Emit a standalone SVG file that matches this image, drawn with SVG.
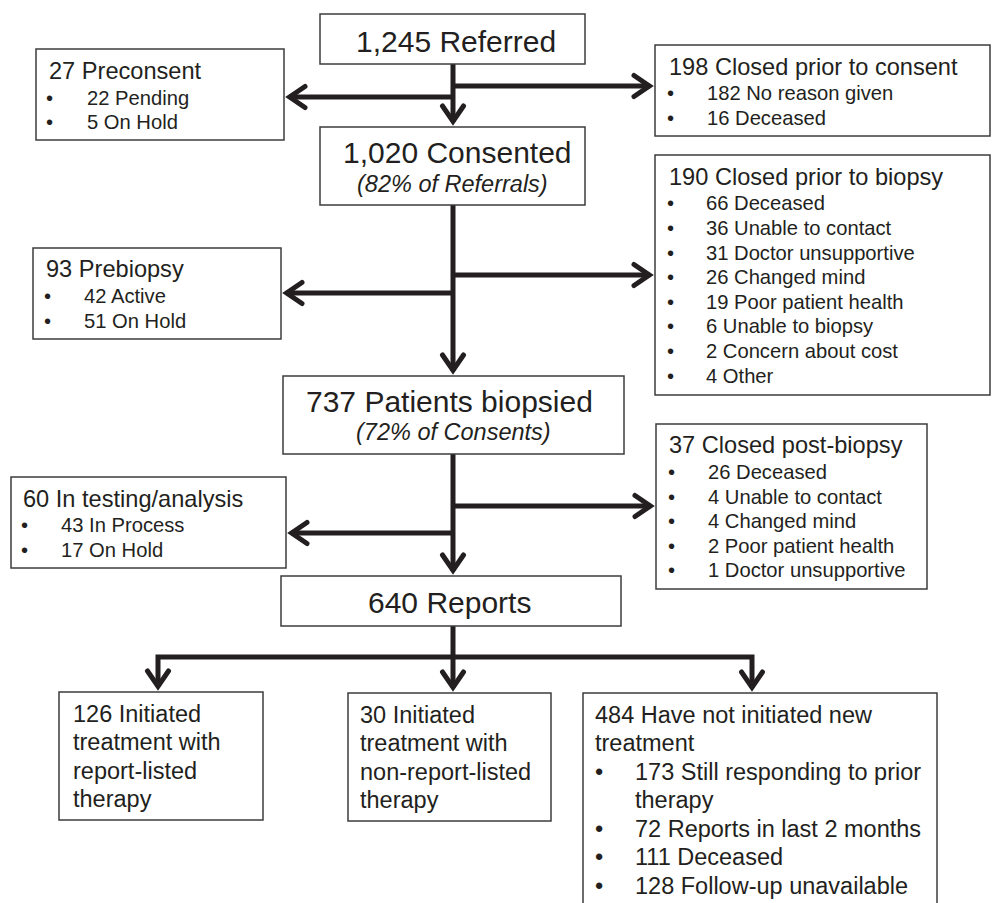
<svg xmlns="http://www.w3.org/2000/svg" width="992" height="903" viewBox="0 0 992 903">
<style>
text{font-family:"Liberation Sans",Arial,sans-serif;fill:#231f20}
.box{fill:#fff;stroke:#3c3c3c;stroke-width:1.5}
.big{font-size:30px}
.sub{font-size:23.5px;font-style:italic}
.hd{font-size:23.6px}
.it{font-size:20.2px}
.bt{font-size:23.5px}
.ln{fill:none;stroke:#231f20;stroke-width:5;stroke-linejoin:miter}
</style>
<defs>
<marker id="ah" markerUnits="userSpaceOnUse" viewBox="-30 -15 40 30" markerWidth="40" markerHeight="30" refX="0" refY="0" orient="auto-start-reverse" overflow="visible">
<path d="M-16,-10.5 L-0.6,0 L-16,10.5" fill="none" stroke="#231f20" stroke-width="5" stroke-linecap="round" stroke-linejoin="miter"/>
</marker>
</defs>
<rect width="992" height="903" fill="#fff"/>
<g id="connectors">
<line class="ln" x1="453" y1="64" x2="453" y2="122" marker-end="url(#ah)"/>
<line class="ln" x1="453" y1="86" x2="650" y2="86" marker-end="url(#ah)"/>
<line class="ln" x1="453" y1="97" x2="289" y2="97" marker-end="url(#ah)"/>
<line class="ln" x1="453" y1="205" x2="453" y2="371" marker-end="url(#ah)"/>
<line class="ln" x1="453" y1="275" x2="650" y2="275" marker-end="url(#ah)"/>
<line class="ln" x1="453" y1="293" x2="286" y2="293" marker-end="url(#ah)"/>
<line class="ln" x1="453" y1="454" x2="453" y2="571" marker-end="url(#ah)"/>
<line class="ln" x1="453" y1="506" x2="651" y2="506" marker-end="url(#ah)"/>
<line class="ln" x1="453" y1="533" x2="291" y2="533" marker-end="url(#ah)"/>
<line class="ln" x1="453" y1="626" x2="453" y2="688" marker-end="url(#ah)"/>
<path class="ln" d="M158,687 V657 H752 V688" marker-start="url(#ah)" marker-end="url(#ah)"/>
</g>
<g id="referred">
<rect class="box" x="320" y="14" width="265" height="50"/>
<text class="big" x="356" y="52">1,245 Referred</text>
</g>
<g id="preconsent">
<rect class="box" x="36" y="49" width="248" height="91"/>
<text class="hd" x="49" y="79">27 Preconsent</text>
<text class="it" x="46" y="105">•</text><text class="it" x="87" y="105">22 Pending</text>
<text class="it" x="46" y="129">•</text><text class="it" x="87" y="129">5 On Hold</text>
</g>
<g id="closed-consent">
<rect class="box" x="655" y="45" width="335" height="91"/>
<text class="hd" x="669" y="75">198 Closed prior to consent</text>
<text class="it" x="667" y="100">•</text><text class="it" x="707" y="100">182 No reason given</text>
<text class="it" x="667" y="125">•</text><text class="it" x="707" y="125">16 Deceased</text>
</g>
<g id="consented">
<rect class="box" x="320" y="127" width="265" height="78"/>
<text class="big" x="343" y="163">1,020 Consented</text>
<text class="sub" x="357" y="192">(82% of Referrals)</text>
</g>
<g id="closed-biopsy">
<rect class="box" x="655" y="155" width="335" height="240"/>
<text class="hd" x="669" y="185">190 Closed prior to biopsy</text>
<text class="it" x="667" y="210">•</text><text class="it" x="706" y="210">66 Deceased</text>
<text class="it" x="667" y="235">•</text><text class="it" x="706" y="235">36 Unable to contact</text>
<text class="it" x="667" y="260">•</text><text class="it" x="706" y="260">31 Doctor unsupportive</text>
<text class="it" x="667" y="284">•</text><text class="it" x="706" y="284">26 Changed mind</text>
<text class="it" x="667" y="309">•</text><text class="it" x="706" y="309">19 Poor patient health</text>
<text class="it" x="667" y="333">•</text><text class="it" x="706" y="333">6 Unable to biopsy</text>
<text class="it" x="667" y="358">•</text><text class="it" x="706" y="358">2 Concern about cost</text>
<text class="it" x="667" y="383">•</text><text class="it" x="706" y="383">4 Other</text>
</g>
<g id="prebiopsy">
<rect class="box" x="33" y="248" width="248" height="91"/>
<text class="hd" x="46" y="277">93 Prebiopsy</text>
<text class="it" x="44" y="303">•</text><text class="it" x="84" y="303">42 Active</text>
<text class="it" x="44" y="328">•</text><text class="it" x="84" y="328">51 On Hold</text>
</g>
<g id="biopsied">
<rect class="box" x="283" y="376" width="341" height="78"/>
<text class="big" x="306" y="412">737 Patients biopsied</text>
<text class="sub" x="356" y="440">(72% of Consents)</text>
</g>
<g id="closed-post">
<rect class="box" x="656" y="424" width="271" height="165"/>
<text class="hd" x="669" y="453">37 Closed post-biopsy</text>
<text class="it" x="668" y="479">•</text><text class="it" x="708" y="479">26 Deceased</text>
<text class="it" x="668" y="504">•</text><text class="it" x="708" y="504">4 Unable to contact</text>
<text class="it" x="668" y="528">•</text><text class="it" x="708" y="528">4 Changed mind</text>
<text class="it" x="668" y="553">•</text><text class="it" x="708" y="553">2 Poor patient health</text>
<text class="it" x="668" y="577">•</text><text class="it" x="708" y="577">1 Doctor unsupportive</text>
</g>
<g id="testing">
<rect class="box" x="11" y="477" width="275" height="91"/>
<text class="hd" x="23" y="507">60 In testing/analysis</text>
<text class="it" x="21" y="532">•</text><text class="it" x="61" y="532">43 In Process</text>
<text class="it" x="21" y="557">•</text><text class="it" x="61" y="557">17 On Hold</text>
</g>
<g id="reports">
<rect class="box" x="281" y="576" width="340" height="50"/>
<text class="big" x="368" y="613">640 Reports</text>
</g>
<g id="report-listed">
<rect class="box" x="59" y="692" width="204" height="128"/>
<text class="bt" x="73" y="722">126 Initiated</text>
<text class="bt" x="73" y="750">treatment with</text>
<text class="bt" x="73" y="779">report-listed</text>
<text class="bt" x="73" y="807">therapy</text>
</g>
<g id="non-report-listed">
<rect class="box" x="348" y="693" width="203" height="128"/>
<text class="bt" x="360" y="723">30 Initiated</text>
<text class="bt" x="360" y="751">treatment with</text>
<text class="bt" x="360" y="780">non-report-listed</text>
<text class="bt" x="360" y="808">therapy</text>
</g>
<g id="not-initiated">
<rect class="box" x="583" y="693" width="354" height="220"/>
<text class="bt" x="595" y="723">484 Have not initiated new</text>
<text class="bt" x="595" y="751">treatment</text>
<text class="bt" x="595" y="780">•</text><text class="bt" x="635" y="780">173 Still responding to prior</text>
<text class="bt" x="635" y="808">therapy</text>
<text class="bt" x="595" y="837">•</text><text class="bt" x="635" y="837">72 Reports in last 2 months</text>
<text class="bt" x="595" y="865">•</text><text class="bt" x="635" y="865">111 Deceased</text>
<text class="bt" x="595" y="894">•</text><text class="bt" x="635" y="894">128 Follow-up unavailable</text>
</g>
</svg>
